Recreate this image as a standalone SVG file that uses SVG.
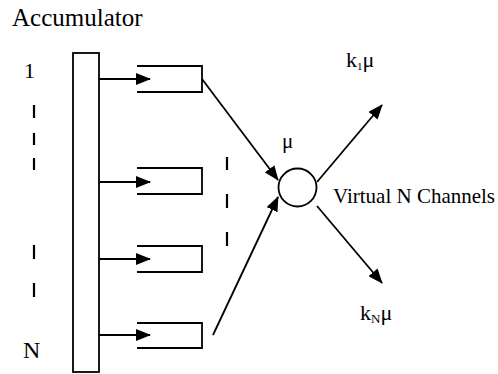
<svg xmlns="http://www.w3.org/2000/svg" width="498" height="374" viewBox="0 0 498 374">
<style>
.ln{stroke:#000;stroke-width:1.8;fill:none}
.t{font-family:"Liberation Serif","Times New Roman",Times,serif;fill:#000}
.dash{stroke:#000;stroke-width:2.2}
</style>
<defs>
<marker id="ah" markerWidth="15" markerHeight="12" refX="14" refY="6" orient="auto" markerUnits="userSpaceOnUse">
<path d="M0,0 L15,6 L0,12 Z" fill="#000"/>
</marker>
</defs>
<rect width="498" height="374" fill="#fff"/>
<text class="t" x="12" y="26" font-size="25">Accumulator</text>
<g id="accumulator">
<rect class="ln" x="73" y="53" width="26" height="319"/>
</g>
<g id="labels-left">
<text class="t" x="24" y="78" font-size="22">1</text>
<text class="t" x="23" y="358" font-size="24">N</text>
<line class="dash" x1="34" y1="105" x2="34" y2="118"/>
<line class="dash" x1="34" y1="133" x2="34" y2="145"/>
<line class="dash" x1="34" y1="158" x2="34" y2="170"/>
<line class="dash" x1="34" y1="245" x2="34" y2="259"/>
<line class="dash" x1="34" y1="283" x2="34" y2="297"/>
<line class="dash" x1="227" y1="157" x2="227" y2="170"/>
<line class="dash" x1="227" y1="194" x2="227" y2="208"/>
<line class="dash" x1="227" y1="232" x2="227" y2="246"/>
</g>
<g id="queue1"><path class="ln" d="M137,66 H202 V92 H137"/></g>
<g id="queue2"><path class="ln" d="M137,168 H202 V194 H137"/></g>
<g id="queue3"><path class="ln" d="M137,246 H202 V272 H137"/></g>
<g id="queue4"><path class="ln" d="M137,323 H202 V348 H137"/></g>
<g id="server">
<circle class="ln" cx="297.5" cy="187.5" r="19"/>
<text class="t" x="282" y="148" font-size="21">μ</text>
<text class="t" x="333" y="203" font-size="21">Virtual N Channels</text>
</g>
<g id="outputs">
<text class="t" x="346" y="67" font-size="22">k<tspan font-size="11" dy="3">1</tspan><tspan dy="-3">μ</tspan></text>
<text class="t" x="360" y="320" font-size="22">k<tspan font-size="13" dy="3">N</tspan><tspan dy="-3">μ</tspan></text>
</g>
<g id="connectors">
<line class="ln" x1="99" y1="79" x2="150" y2="79" marker-end="url(#ah)"/>
<line class="ln" x1="99" y1="182" x2="150" y2="182" marker-end="url(#ah)"/>
<line class="ln" x1="99" y1="259" x2="150" y2="259" marker-end="url(#ah)"/>
<line class="ln" x1="99" y1="335" x2="150" y2="335" marker-end="url(#ah)"/>
<line class="ln" x1="202" y1="79" x2="278" y2="180" marker-end="url(#ah)"/>
<line class="ln" x1="213" y1="335" x2="278" y2="197" marker-end="url(#ah)"/>
<line class="ln" x1="317" y1="182" x2="382" y2="105" marker-end="url(#ah)"/>
<line class="ln" x1="317" y1="206" x2="382" y2="283" marker-end="url(#ah)"/>
</g>
</svg>
